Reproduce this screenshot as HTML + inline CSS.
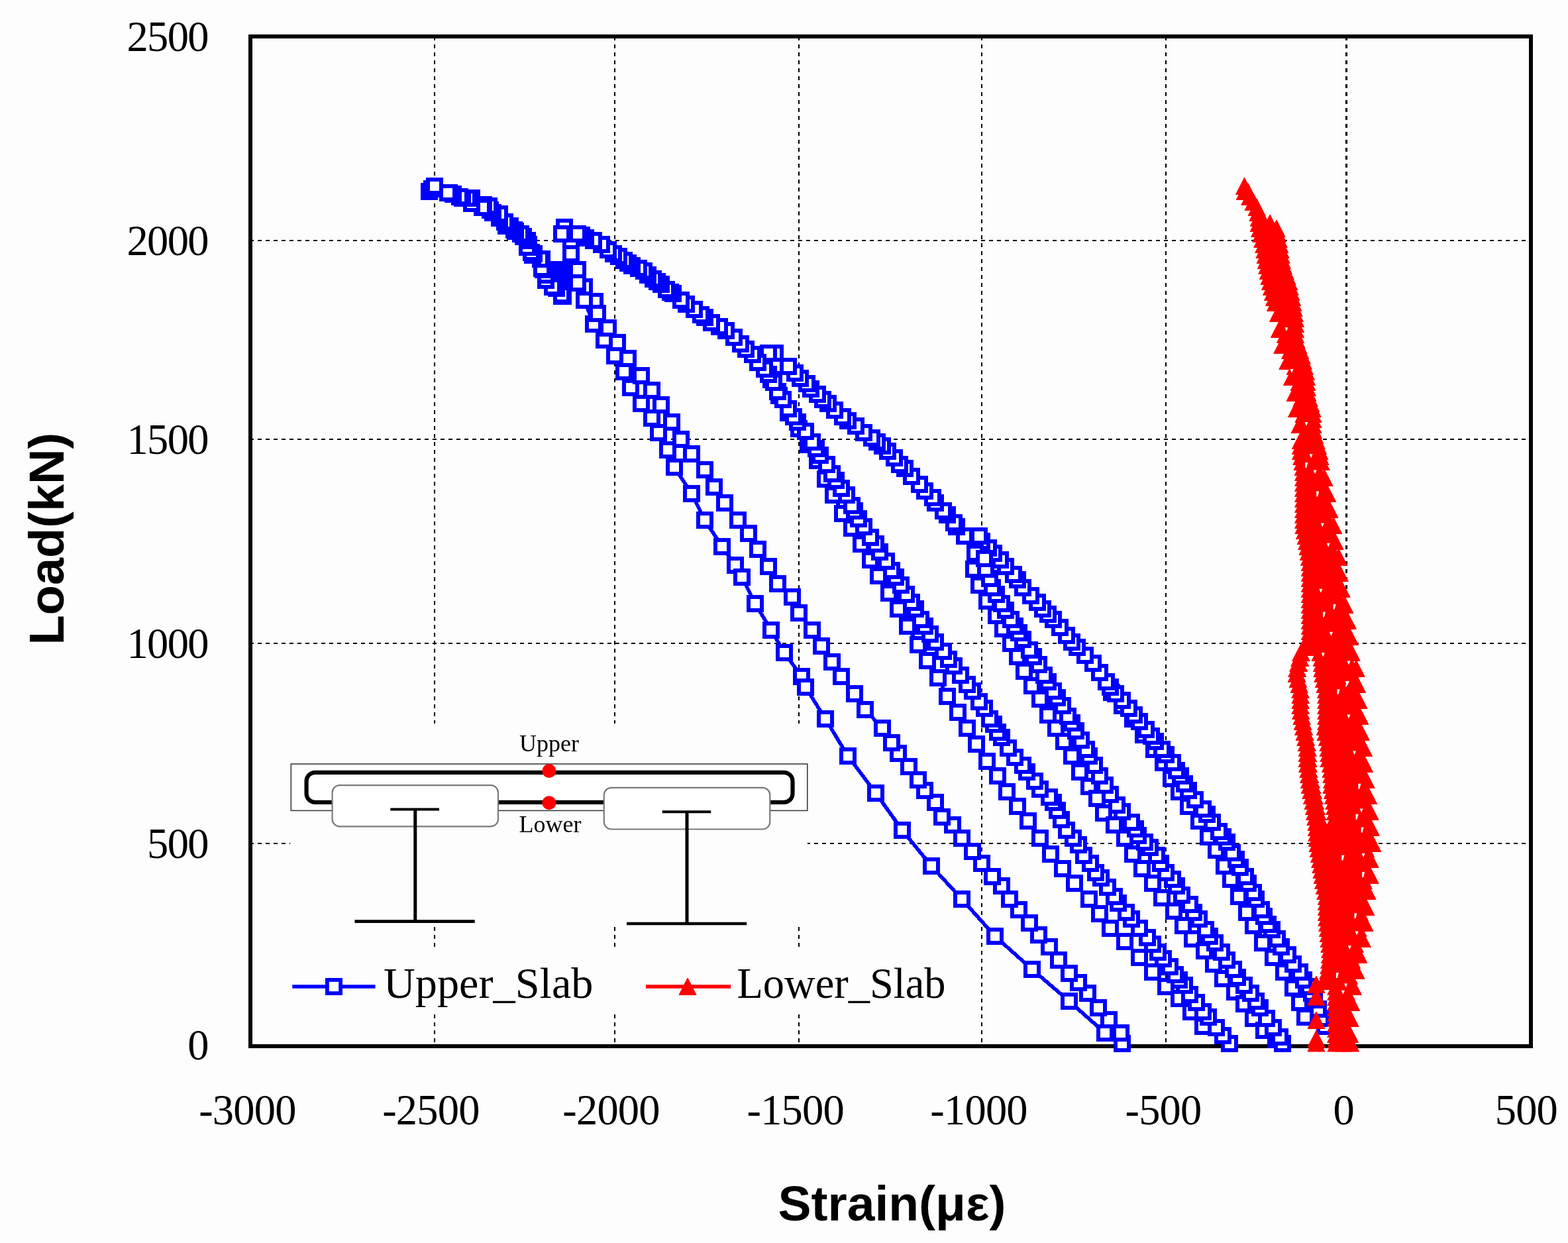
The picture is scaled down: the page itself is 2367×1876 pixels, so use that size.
<!DOCTYPE html>
<html lang="en"><head><meta charset="utf-8"><title>Load-Strain</title>
<style>html,body{margin:0;padding:0;background:#fdfdfd;overflow:hidden;}svg{display:block;}</style>
</head><body>
<svg width="2367" height="1876" viewBox="0 0 2367 1876">
<rect x="0" y="0" width="2367" height="1876" fill="#fdfdfd"/>
<g stroke="#000" stroke-width="2.2" stroke-dasharray="6 6" fill="none" shape-rendering="crispEdges">
<line x1="656" y1="54.5" x2="656" y2="1578.6"/>
<line x1="928.3" y1="54.5" x2="928.3" y2="1578.6"/>
<line x1="1206.1" y1="54.5" x2="1206.1" y2="1578.6"/>
<line x1="1482.2" y1="54.5" x2="1482.2" y2="1578.6"/>
<line x1="1760.3" y1="54.5" x2="1760.3" y2="1578.6"/>
<line x1="2032.5" y1="54.5" x2="2032.5" y2="1578.6"/>
<line x1="377" y1="363" x2="2311" y2="363"/>
<line x1="377" y1="663" x2="2311" y2="663"/>
<line x1="377" y1="971" x2="2311" y2="971"/>
<line x1="377" y1="1273.3" x2="2311" y2="1273.3"/>
</g>
<rect x="378" y="55" width="1933" height="1523.6" fill="none" stroke="#000" stroke-width="6" shape-rendering="crispEdges"/>
<defs>
<rect id="sq" x="-10.1" y="-10.1" width="20.2" height="20.2" fill="#fff" stroke="#0000ff" stroke-width="5.8"/>
<path id="tr" d="M0,-13 L13,12.5 L-13,12.5 Z" fill="#ff0000" stroke="#ff0000" stroke-width="1" stroke-linejoin="round"/>
</defs>
<g id="blue" shape-rendering="crispEdges">
<polyline points="1678,1045 1694,1065 1710,1085 1726,1109 1742,1131 1756,1151 1768,1175 1780,1195 1794,1217 1810,1239 1824,1263 1836,1283 1848,1307 1858,1327 1870,1353 1882,1377 1892,1397 1906,1423 1922,1445 1938,1467 1952,1491 1962,1513 1970,1535" fill="none" stroke="#0000ff" stroke-width="5.6" stroke-linejoin="round"/>
<polyline points="2000,1549 1994,1537 1990,1523 1984,1509 1980,1499 1976,1489 1968,1479 1962,1467 1952,1455 1944,1441 1934,1429 1928,1417 1920,1403 1914,1395 1908,1383 1904,1373 1896,1357 1892,1347 1884,1333 1880,1323 1872,1309 1866,1297 1860,1287 1852,1271 1846,1263 1840,1255 1830,1241 1822,1229 1816,1221 1804,1207 1794,1193 1788,1183 1782,1171 1776,1163 1770,1151 1760,1139 1754,1131 1744,1119 1738,1111 1730,1101 1720,1089 1712,1079 1704,1069 1694,1057 1684,1047 1676,1037 1670,1029 1660,1015 1650,1001 1638,989 1626,977 1618,969 1610,959 1600,947 1590,935 1582,927 1574,919 1566,909 1556,899 1544,887 1536,875 1530,867 1518,855 1510,845 1500,835 1492,827 1482,817 1478,809" fill="none" stroke="#0000ff" stroke-width="5.6" stroke-linejoin="round"/>
<polyline points="1472,835 1470,859 1478,883 1490,907 1504,929 1514,949 1526,971 1536,991 1546,1013 1558,1035 1570,1055 1582,1079 1594,1099 1606,1119 1618,1141 1630,1165 1644,1187 1656,1205 1666,1227 1682,1245 1698,1265 1710,1289 1724,1311 1740,1333 1754,1355 1772,1375 1786,1397 1800,1417 1818,1435 1832,1455 1846,1477 1864,1497 1878,1515 1892,1537 1908,1555 1926,1569" fill="none" stroke="#0000ff" stroke-width="5.6" stroke-linejoin="round"/>
<polyline points="1936,1575 1932,1565 1922,1551 1912,1537 1902,1521 1896,1511 1888,1499 1878,1487 1868,1475 1862,1463 1852,1449 1844,1437 1834,1423 1826,1413 1820,1403 1810,1387 1802,1377 1796,1365 1784,1351 1776,1337 1770,1327 1760,1317 1752,1303 1746,1291 1736,1279 1728,1271 1718,1261 1714,1251 1708,1241 1694,1225 1686,1215 1676,1199 1668,1185 1660,1171 1652,1155 1644,1141 1640,1131 1632,1117 1624,1103 1618,1091 1612,1081 1604,1065 1596,1053 1590,1043 1582,1029 1576,1019 1568,1003 1560,991 1554,981 1544,965 1538,955 1532,945 1526,935 1518,921 1512,911 1504,897 1498,887 1494,873 1488,859 1486,843" fill="none" stroke="#0000ff" stroke-width="5.6" stroke-linejoin="round"/>
<polyline points="1456,809 1444,795 1440,789 1430,777 1424,771 1412,759 1408,751 1396,741 1388,731 1376,719 1366,707 1358,701 1350,691 1340,681 1332,673 1324,667 1316,661 1304,653 1292,643 1280,635 1272,629 1260,619 1250,609 1242,603 1234,595 1224,587 1218,579 1208,571 1200,563 1190,553 1170,533 1160,533" fill="none" stroke="#0000ff" stroke-width="5.6" stroke-linejoin="round"/>
<polyline points="1164,573 1176,597 1190,623 1206,647 1220,671 1234,695 1246,723 1258,747 1272,775 1286,797 1300,821 1314,845 1326,869 1342,895 1356,919 1370,945 1386,973 1400,997 1416,1023 1430,1051 1446,1075 1460,1099 1474,1123 1490,1149 1506,1171 1520,1195 1536,1217 1552,1239 1570,1265 1586,1289 1604,1311 1622,1333 1644,1357 1660,1379 1676,1401 1698,1421 1720,1445 1740,1467 1760,1489 1780,1507 1798,1527 1816,1549" fill="none" stroke="#0000ff" stroke-width="5.6" stroke-linejoin="round"/>
<polyline points="1856,1575 1846,1563 1836,1551 1824,1535 1816,1527 1806,1513 1796,1501 1788,1487 1780,1479 1774,1471 1766,1459 1756,1447 1748,1437 1740,1425 1732,1415 1720,1401 1708,1387 1700,1377 1688,1363 1682,1353 1672,1339 1662,1325 1654,1317 1646,1303 1636,1291 1628,1275 1620,1265 1610,1253 1602,1237 1596,1223 1590,1211 1584,1203 1570,1191 1562,1179 1550,1165 1544,1155 1532,1143 1522,1129 1512,1113 1506,1105 1500,1093 1494,1085 1486,1069 1478,1059 1468,1043 1460,1033 1450,1019 1440,1005 1432,995 1424,983 1412,969 1404,957 1396,945 1390,935 1382,919 1376,909 1368,897 1360,883 1352,871 1346,861 1338,847 1328,833 1322,821 1314,811 1304,795 1296,783 1290,771 1286,763 1278,747 1270,737 1262,725 1256,715 1248,701 1238,687 1232,677 1226,667 1216,651 1204,637 1198,629 1190,617 1182,603 1174,591 1168,577" fill="none" stroke="#0000ff" stroke-width="5.6" stroke-linejoin="round"/>
<polyline points="1160,565 1154,557 1144,547 1136,535 1126,527 1118,519 1108,509 1096,499 1086,493 1074,487 1064,479 1058,475 1048,467 1036,459 1028,453 1016,443 1012,441 1006,437 998,429 992,425 986,421 978,415 972,409 964,405 954,401 948,397 942,393 934,387 926,383 918,377 908,369 896,363 884,359 878,355 872,353 852,343 848,353" fill="none" stroke="#0000ff" stroke-width="5.6" stroke-linejoin="round"/>
<polyline points="862,373 862,383 882,433 872,407 872,427 898,455 882,453 896,489 912,513 928,537 942,561 952,585 968,609 984,631 994,653 1008,679 1018,705 1044,745 1064,785 1090,825 1110,853 1120,871 1140,911 1164,951 1184,985 1210,1021 1216,1037 1246,1085 1280,1141 1322,1197 1362,1253 1406,1307 1452,1357 1502,1413 1558,1463 1614,1511 1668,1559 1694,1575" fill="none" stroke="#0000ff" stroke-width="5.6" stroke-linejoin="round"/>
<polyline points="1694,1575 1692,1559 1674,1539 1658,1521 1642,1499 1628,1483 1614,1469 1598,1449 1584,1429 1568,1411 1554,1393 1538,1373 1524,1357 1512,1337 1498,1323 1482,1303 1468,1285 1452,1265 1438,1245 1422,1233 1412,1211 1396,1193 1386,1177 1372,1157 1356,1137 1346,1121 1332,1099 1306,1071 1290,1047 1270,1021 1256,999 1240,975 1226,951 1206,925 1196,901 1174,881 1160,855 1144,829 1130,805 1114,785 1094,759 1078,735 1064,709 1044,685 1028,663 1014,637 998,611 984,589 968,567 948,541 932,517 918,495 902,473" fill="none" stroke="#0000ff" stroke-width="5.6" stroke-linejoin="round"/>
<polyline points="848,407 848,411 848,415 848,419 848,423 848,427 848,431 848,435 848,439 848,443 848,447" fill="none" stroke="#0000ff" stroke-width="5.6" stroke-linejoin="round"/>
<polyline points="850,447 848,445 840,435 840,433 834,433 824,423 824,415 820,407 822,407 818,405 818,391 816,391 804,385 806,383 802,381 798,369 796,373 796,363 790,357 786,353 778,349 776,347 770,341 764,341 762,335 754,329 754,323 744,321 740,317 738,311 730,309 728,313 712,307 712,299 706,299 698,299 694,297 684,293 678,291 676,291 648,289 652,285 656,281" fill="none" stroke="#0000ff" stroke-width="5.6" stroke-linejoin="round"/>
<use href="#sq" x="1678" y="1045"/>
<use href="#sq" x="1694" y="1065"/>
<use href="#sq" x="1710" y="1085"/>
<use href="#sq" x="1726" y="1109"/>
<use href="#sq" x="1742" y="1131"/>
<use href="#sq" x="1756" y="1151"/>
<use href="#sq" x="1768" y="1175"/>
<use href="#sq" x="1780" y="1195"/>
<use href="#sq" x="1794" y="1217"/>
<use href="#sq" x="1810" y="1239"/>
<use href="#sq" x="1824" y="1263"/>
<use href="#sq" x="1836" y="1283"/>
<use href="#sq" x="1848" y="1307"/>
<use href="#sq" x="1858" y="1327"/>
<use href="#sq" x="1870" y="1353"/>
<use href="#sq" x="1882" y="1377"/>
<use href="#sq" x="1892" y="1397"/>
<use href="#sq" x="1906" y="1423"/>
<use href="#sq" x="1922" y="1445"/>
<use href="#sq" x="1938" y="1467"/>
<use href="#sq" x="1952" y="1491"/>
<use href="#sq" x="1962" y="1513"/>
<use href="#sq" x="1970" y="1535"/>
<use href="#sq" x="2000" y="1549"/>
<use href="#sq" x="1994" y="1537"/>
<use href="#sq" x="1990" y="1523"/>
<use href="#sq" x="1984" y="1509"/>
<use href="#sq" x="1980" y="1499"/>
<use href="#sq" x="1976" y="1489"/>
<use href="#sq" x="1968" y="1479"/>
<use href="#sq" x="1962" y="1467"/>
<use href="#sq" x="1952" y="1455"/>
<use href="#sq" x="1944" y="1441"/>
<use href="#sq" x="1934" y="1429"/>
<use href="#sq" x="1928" y="1417"/>
<use href="#sq" x="1920" y="1403"/>
<use href="#sq" x="1914" y="1395"/>
<use href="#sq" x="1908" y="1383"/>
<use href="#sq" x="1904" y="1373"/>
<use href="#sq" x="1896" y="1357"/>
<use href="#sq" x="1892" y="1347"/>
<use href="#sq" x="1884" y="1333"/>
<use href="#sq" x="1880" y="1323"/>
<use href="#sq" x="1872" y="1309"/>
<use href="#sq" x="1866" y="1297"/>
<use href="#sq" x="1860" y="1287"/>
<use href="#sq" x="1852" y="1271"/>
<use href="#sq" x="1846" y="1263"/>
<use href="#sq" x="1840" y="1255"/>
<use href="#sq" x="1830" y="1241"/>
<use href="#sq" x="1822" y="1229"/>
<use href="#sq" x="1816" y="1221"/>
<use href="#sq" x="1804" y="1207"/>
<use href="#sq" x="1794" y="1193"/>
<use href="#sq" x="1788" y="1183"/>
<use href="#sq" x="1782" y="1171"/>
<use href="#sq" x="1776" y="1163"/>
<use href="#sq" x="1770" y="1151"/>
<use href="#sq" x="1760" y="1139"/>
<use href="#sq" x="1754" y="1131"/>
<use href="#sq" x="1744" y="1119"/>
<use href="#sq" x="1738" y="1111"/>
<use href="#sq" x="1730" y="1101"/>
<use href="#sq" x="1720" y="1089"/>
<use href="#sq" x="1712" y="1079"/>
<use href="#sq" x="1704" y="1069"/>
<use href="#sq" x="1694" y="1057"/>
<use href="#sq" x="1684" y="1047"/>
<use href="#sq" x="1676" y="1037"/>
<use href="#sq" x="1670" y="1029"/>
<use href="#sq" x="1660" y="1015"/>
<use href="#sq" x="1650" y="1001"/>
<use href="#sq" x="1638" y="989"/>
<use href="#sq" x="1626" y="977"/>
<use href="#sq" x="1618" y="969"/>
<use href="#sq" x="1610" y="959"/>
<use href="#sq" x="1600" y="947"/>
<use href="#sq" x="1590" y="935"/>
<use href="#sq" x="1582" y="927"/>
<use href="#sq" x="1574" y="919"/>
<use href="#sq" x="1566" y="909"/>
<use href="#sq" x="1556" y="899"/>
<use href="#sq" x="1544" y="887"/>
<use href="#sq" x="1536" y="875"/>
<use href="#sq" x="1530" y="867"/>
<use href="#sq" x="1518" y="855"/>
<use href="#sq" x="1510" y="845"/>
<use href="#sq" x="1500" y="835"/>
<use href="#sq" x="1492" y="827"/>
<use href="#sq" x="1482" y="817"/>
<use href="#sq" x="1478" y="809"/>
<use href="#sq" x="1472" y="835"/>
<use href="#sq" x="1470" y="859"/>
<use href="#sq" x="1478" y="883"/>
<use href="#sq" x="1490" y="907"/>
<use href="#sq" x="1504" y="929"/>
<use href="#sq" x="1514" y="949"/>
<use href="#sq" x="1526" y="971"/>
<use href="#sq" x="1536" y="991"/>
<use href="#sq" x="1546" y="1013"/>
<use href="#sq" x="1558" y="1035"/>
<use href="#sq" x="1570" y="1055"/>
<use href="#sq" x="1582" y="1079"/>
<use href="#sq" x="1594" y="1099"/>
<use href="#sq" x="1606" y="1119"/>
<use href="#sq" x="1618" y="1141"/>
<use href="#sq" x="1630" y="1165"/>
<use href="#sq" x="1644" y="1187"/>
<use href="#sq" x="1656" y="1205"/>
<use href="#sq" x="1666" y="1227"/>
<use href="#sq" x="1682" y="1245"/>
<use href="#sq" x="1698" y="1265"/>
<use href="#sq" x="1710" y="1289"/>
<use href="#sq" x="1724" y="1311"/>
<use href="#sq" x="1740" y="1333"/>
<use href="#sq" x="1754" y="1355"/>
<use href="#sq" x="1772" y="1375"/>
<use href="#sq" x="1786" y="1397"/>
<use href="#sq" x="1800" y="1417"/>
<use href="#sq" x="1818" y="1435"/>
<use href="#sq" x="1832" y="1455"/>
<use href="#sq" x="1846" y="1477"/>
<use href="#sq" x="1864" y="1497"/>
<use href="#sq" x="1878" y="1515"/>
<use href="#sq" x="1892" y="1537"/>
<use href="#sq" x="1908" y="1555"/>
<use href="#sq" x="1926" y="1569"/>
<use href="#sq" x="1936" y="1575"/>
<use href="#sq" x="1932" y="1565"/>
<use href="#sq" x="1922" y="1551"/>
<use href="#sq" x="1912" y="1537"/>
<use href="#sq" x="1902" y="1521"/>
<use href="#sq" x="1896" y="1511"/>
<use href="#sq" x="1888" y="1499"/>
<use href="#sq" x="1878" y="1487"/>
<use href="#sq" x="1868" y="1475"/>
<use href="#sq" x="1862" y="1463"/>
<use href="#sq" x="1852" y="1449"/>
<use href="#sq" x="1844" y="1437"/>
<use href="#sq" x="1834" y="1423"/>
<use href="#sq" x="1826" y="1413"/>
<use href="#sq" x="1820" y="1403"/>
<use href="#sq" x="1810" y="1387"/>
<use href="#sq" x="1802" y="1377"/>
<use href="#sq" x="1796" y="1365"/>
<use href="#sq" x="1784" y="1351"/>
<use href="#sq" x="1776" y="1337"/>
<use href="#sq" x="1770" y="1327"/>
<use href="#sq" x="1760" y="1317"/>
<use href="#sq" x="1752" y="1303"/>
<use href="#sq" x="1746" y="1291"/>
<use href="#sq" x="1736" y="1279"/>
<use href="#sq" x="1728" y="1271"/>
<use href="#sq" x="1718" y="1261"/>
<use href="#sq" x="1714" y="1251"/>
<use href="#sq" x="1708" y="1241"/>
<use href="#sq" x="1694" y="1225"/>
<use href="#sq" x="1686" y="1215"/>
<use href="#sq" x="1676" y="1199"/>
<use href="#sq" x="1668" y="1185"/>
<use href="#sq" x="1660" y="1171"/>
<use href="#sq" x="1652" y="1155"/>
<use href="#sq" x="1644" y="1141"/>
<use href="#sq" x="1640" y="1131"/>
<use href="#sq" x="1632" y="1117"/>
<use href="#sq" x="1624" y="1103"/>
<use href="#sq" x="1618" y="1091"/>
<use href="#sq" x="1612" y="1081"/>
<use href="#sq" x="1604" y="1065"/>
<use href="#sq" x="1596" y="1053"/>
<use href="#sq" x="1590" y="1043"/>
<use href="#sq" x="1582" y="1029"/>
<use href="#sq" x="1576" y="1019"/>
<use href="#sq" x="1568" y="1003"/>
<use href="#sq" x="1560" y="991"/>
<use href="#sq" x="1554" y="981"/>
<use href="#sq" x="1544" y="965"/>
<use href="#sq" x="1538" y="955"/>
<use href="#sq" x="1532" y="945"/>
<use href="#sq" x="1526" y="935"/>
<use href="#sq" x="1518" y="921"/>
<use href="#sq" x="1512" y="911"/>
<use href="#sq" x="1504" y="897"/>
<use href="#sq" x="1498" y="887"/>
<use href="#sq" x="1494" y="873"/>
<use href="#sq" x="1488" y="859"/>
<use href="#sq" x="1486" y="843"/>
<use href="#sq" x="1456" y="809"/>
<use href="#sq" x="1444" y="795"/>
<use href="#sq" x="1440" y="789"/>
<use href="#sq" x="1430" y="777"/>
<use href="#sq" x="1424" y="771"/>
<use href="#sq" x="1412" y="759"/>
<use href="#sq" x="1408" y="751"/>
<use href="#sq" x="1396" y="741"/>
<use href="#sq" x="1388" y="731"/>
<use href="#sq" x="1376" y="719"/>
<use href="#sq" x="1366" y="707"/>
<use href="#sq" x="1358" y="701"/>
<use href="#sq" x="1350" y="691"/>
<use href="#sq" x="1340" y="681"/>
<use href="#sq" x="1332" y="673"/>
<use href="#sq" x="1324" y="667"/>
<use href="#sq" x="1316" y="661"/>
<use href="#sq" x="1304" y="653"/>
<use href="#sq" x="1292" y="643"/>
<use href="#sq" x="1280" y="635"/>
<use href="#sq" x="1272" y="629"/>
<use href="#sq" x="1260" y="619"/>
<use href="#sq" x="1250" y="609"/>
<use href="#sq" x="1242" y="603"/>
<use href="#sq" x="1234" y="595"/>
<use href="#sq" x="1224" y="587"/>
<use href="#sq" x="1218" y="579"/>
<use href="#sq" x="1208" y="571"/>
<use href="#sq" x="1200" y="563"/>
<use href="#sq" x="1190" y="553"/>
<use href="#sq" x="1170" y="533"/>
<use href="#sq" x="1160" y="533"/>
<use href="#sq" x="1164" y="573"/>
<use href="#sq" x="1176" y="597"/>
<use href="#sq" x="1190" y="623"/>
<use href="#sq" x="1206" y="647"/>
<use href="#sq" x="1220" y="671"/>
<use href="#sq" x="1234" y="695"/>
<use href="#sq" x="1246" y="723"/>
<use href="#sq" x="1258" y="747"/>
<use href="#sq" x="1272" y="775"/>
<use href="#sq" x="1286" y="797"/>
<use href="#sq" x="1300" y="821"/>
<use href="#sq" x="1314" y="845"/>
<use href="#sq" x="1326" y="869"/>
<use href="#sq" x="1342" y="895"/>
<use href="#sq" x="1356" y="919"/>
<use href="#sq" x="1370" y="945"/>
<use href="#sq" x="1386" y="973"/>
<use href="#sq" x="1400" y="997"/>
<use href="#sq" x="1416" y="1023"/>
<use href="#sq" x="1430" y="1051"/>
<use href="#sq" x="1446" y="1075"/>
<use href="#sq" x="1460" y="1099"/>
<use href="#sq" x="1474" y="1123"/>
<use href="#sq" x="1490" y="1149"/>
<use href="#sq" x="1506" y="1171"/>
<use href="#sq" x="1520" y="1195"/>
<use href="#sq" x="1536" y="1217"/>
<use href="#sq" x="1552" y="1239"/>
<use href="#sq" x="1570" y="1265"/>
<use href="#sq" x="1586" y="1289"/>
<use href="#sq" x="1604" y="1311"/>
<use href="#sq" x="1622" y="1333"/>
<use href="#sq" x="1644" y="1357"/>
<use href="#sq" x="1660" y="1379"/>
<use href="#sq" x="1676" y="1401"/>
<use href="#sq" x="1698" y="1421"/>
<use href="#sq" x="1720" y="1445"/>
<use href="#sq" x="1740" y="1467"/>
<use href="#sq" x="1760" y="1489"/>
<use href="#sq" x="1780" y="1507"/>
<use href="#sq" x="1798" y="1527"/>
<use href="#sq" x="1816" y="1549"/>
<use href="#sq" x="1856" y="1575"/>
<use href="#sq" x="1846" y="1563"/>
<use href="#sq" x="1836" y="1551"/>
<use href="#sq" x="1824" y="1535"/>
<use href="#sq" x="1816" y="1527"/>
<use href="#sq" x="1806" y="1513"/>
<use href="#sq" x="1796" y="1501"/>
<use href="#sq" x="1788" y="1487"/>
<use href="#sq" x="1780" y="1479"/>
<use href="#sq" x="1774" y="1471"/>
<use href="#sq" x="1766" y="1459"/>
<use href="#sq" x="1756" y="1447"/>
<use href="#sq" x="1748" y="1437"/>
<use href="#sq" x="1740" y="1425"/>
<use href="#sq" x="1732" y="1415"/>
<use href="#sq" x="1720" y="1401"/>
<use href="#sq" x="1708" y="1387"/>
<use href="#sq" x="1700" y="1377"/>
<use href="#sq" x="1688" y="1363"/>
<use href="#sq" x="1682" y="1353"/>
<use href="#sq" x="1672" y="1339"/>
<use href="#sq" x="1662" y="1325"/>
<use href="#sq" x="1654" y="1317"/>
<use href="#sq" x="1646" y="1303"/>
<use href="#sq" x="1636" y="1291"/>
<use href="#sq" x="1628" y="1275"/>
<use href="#sq" x="1620" y="1265"/>
<use href="#sq" x="1610" y="1253"/>
<use href="#sq" x="1602" y="1237"/>
<use href="#sq" x="1596" y="1223"/>
<use href="#sq" x="1590" y="1211"/>
<use href="#sq" x="1584" y="1203"/>
<use href="#sq" x="1570" y="1191"/>
<use href="#sq" x="1562" y="1179"/>
<use href="#sq" x="1550" y="1165"/>
<use href="#sq" x="1544" y="1155"/>
<use href="#sq" x="1532" y="1143"/>
<use href="#sq" x="1522" y="1129"/>
<use href="#sq" x="1512" y="1113"/>
<use href="#sq" x="1506" y="1105"/>
<use href="#sq" x="1500" y="1093"/>
<use href="#sq" x="1494" y="1085"/>
<use href="#sq" x="1486" y="1069"/>
<use href="#sq" x="1478" y="1059"/>
<use href="#sq" x="1468" y="1043"/>
<use href="#sq" x="1460" y="1033"/>
<use href="#sq" x="1450" y="1019"/>
<use href="#sq" x="1440" y="1005"/>
<use href="#sq" x="1432" y="995"/>
<use href="#sq" x="1424" y="983"/>
<use href="#sq" x="1412" y="969"/>
<use href="#sq" x="1404" y="957"/>
<use href="#sq" x="1396" y="945"/>
<use href="#sq" x="1390" y="935"/>
<use href="#sq" x="1382" y="919"/>
<use href="#sq" x="1376" y="909"/>
<use href="#sq" x="1368" y="897"/>
<use href="#sq" x="1360" y="883"/>
<use href="#sq" x="1352" y="871"/>
<use href="#sq" x="1346" y="861"/>
<use href="#sq" x="1338" y="847"/>
<use href="#sq" x="1328" y="833"/>
<use href="#sq" x="1322" y="821"/>
<use href="#sq" x="1314" y="811"/>
<use href="#sq" x="1304" y="795"/>
<use href="#sq" x="1296" y="783"/>
<use href="#sq" x="1290" y="771"/>
<use href="#sq" x="1286" y="763"/>
<use href="#sq" x="1278" y="747"/>
<use href="#sq" x="1270" y="737"/>
<use href="#sq" x="1262" y="725"/>
<use href="#sq" x="1256" y="715"/>
<use href="#sq" x="1248" y="701"/>
<use href="#sq" x="1238" y="687"/>
<use href="#sq" x="1232" y="677"/>
<use href="#sq" x="1226" y="667"/>
<use href="#sq" x="1216" y="651"/>
<use href="#sq" x="1204" y="637"/>
<use href="#sq" x="1198" y="629"/>
<use href="#sq" x="1190" y="617"/>
<use href="#sq" x="1182" y="603"/>
<use href="#sq" x="1174" y="591"/>
<use href="#sq" x="1168" y="577"/>
<use href="#sq" x="1160" y="565"/>
<use href="#sq" x="1154" y="557"/>
<use href="#sq" x="1144" y="547"/>
<use href="#sq" x="1136" y="535"/>
<use href="#sq" x="1126" y="527"/>
<use href="#sq" x="1118" y="519"/>
<use href="#sq" x="1108" y="509"/>
<use href="#sq" x="1096" y="499"/>
<use href="#sq" x="1086" y="493"/>
<use href="#sq" x="1074" y="487"/>
<use href="#sq" x="1064" y="479"/>
<use href="#sq" x="1058" y="475"/>
<use href="#sq" x="1048" y="467"/>
<use href="#sq" x="1036" y="459"/>
<use href="#sq" x="1028" y="453"/>
<use href="#sq" x="1016" y="443"/>
<use href="#sq" x="1012" y="441"/>
<use href="#sq" x="1006" y="437"/>
<use href="#sq" x="998" y="429"/>
<use href="#sq" x="992" y="425"/>
<use href="#sq" x="986" y="421"/>
<use href="#sq" x="978" y="415"/>
<use href="#sq" x="972" y="409"/>
<use href="#sq" x="964" y="405"/>
<use href="#sq" x="954" y="401"/>
<use href="#sq" x="948" y="397"/>
<use href="#sq" x="942" y="393"/>
<use href="#sq" x="934" y="387"/>
<use href="#sq" x="926" y="383"/>
<use href="#sq" x="918" y="377"/>
<use href="#sq" x="908" y="369"/>
<use href="#sq" x="896" y="363"/>
<use href="#sq" x="884" y="359"/>
<use href="#sq" x="878" y="355"/>
<use href="#sq" x="872" y="353"/>
<use href="#sq" x="852" y="343"/>
<use href="#sq" x="848" y="353"/>
<use href="#sq" x="862" y="373"/>
<use href="#sq" x="862" y="383"/>
<use href="#sq" x="882" y="433"/>
<use href="#sq" x="872" y="407"/>
<use href="#sq" x="872" y="427"/>
<use href="#sq" x="898" y="455"/>
<use href="#sq" x="882" y="453"/>
<use href="#sq" x="896" y="489"/>
<use href="#sq" x="912" y="513"/>
<use href="#sq" x="928" y="537"/>
<use href="#sq" x="942" y="561"/>
<use href="#sq" x="952" y="585"/>
<use href="#sq" x="968" y="609"/>
<use href="#sq" x="984" y="631"/>
<use href="#sq" x="994" y="653"/>
<use href="#sq" x="1008" y="679"/>
<use href="#sq" x="1018" y="705"/>
<use href="#sq" x="1044" y="745"/>
<use href="#sq" x="1064" y="785"/>
<use href="#sq" x="1090" y="825"/>
<use href="#sq" x="1110" y="853"/>
<use href="#sq" x="1120" y="871"/>
<use href="#sq" x="1140" y="911"/>
<use href="#sq" x="1164" y="951"/>
<use href="#sq" x="1184" y="985"/>
<use href="#sq" x="1210" y="1021"/>
<use href="#sq" x="1216" y="1037"/>
<use href="#sq" x="1246" y="1085"/>
<use href="#sq" x="1280" y="1141"/>
<use href="#sq" x="1322" y="1197"/>
<use href="#sq" x="1362" y="1253"/>
<use href="#sq" x="1406" y="1307"/>
<use href="#sq" x="1452" y="1357"/>
<use href="#sq" x="1502" y="1413"/>
<use href="#sq" x="1558" y="1463"/>
<use href="#sq" x="1614" y="1511"/>
<use href="#sq" x="1668" y="1559"/>
<use href="#sq" x="1694" y="1575"/>
<use href="#sq" x="1694" y="1575"/>
<use href="#sq" x="1692" y="1559"/>
<use href="#sq" x="1674" y="1539"/>
<use href="#sq" x="1658" y="1521"/>
<use href="#sq" x="1642" y="1499"/>
<use href="#sq" x="1628" y="1483"/>
<use href="#sq" x="1614" y="1469"/>
<use href="#sq" x="1598" y="1449"/>
<use href="#sq" x="1584" y="1429"/>
<use href="#sq" x="1568" y="1411"/>
<use href="#sq" x="1554" y="1393"/>
<use href="#sq" x="1538" y="1373"/>
<use href="#sq" x="1524" y="1357"/>
<use href="#sq" x="1512" y="1337"/>
<use href="#sq" x="1498" y="1323"/>
<use href="#sq" x="1482" y="1303"/>
<use href="#sq" x="1468" y="1285"/>
<use href="#sq" x="1452" y="1265"/>
<use href="#sq" x="1438" y="1245"/>
<use href="#sq" x="1422" y="1233"/>
<use href="#sq" x="1412" y="1211"/>
<use href="#sq" x="1396" y="1193"/>
<use href="#sq" x="1386" y="1177"/>
<use href="#sq" x="1372" y="1157"/>
<use href="#sq" x="1356" y="1137"/>
<use href="#sq" x="1346" y="1121"/>
<use href="#sq" x="1332" y="1099"/>
<use href="#sq" x="1306" y="1071"/>
<use href="#sq" x="1290" y="1047"/>
<use href="#sq" x="1270" y="1021"/>
<use href="#sq" x="1256" y="999"/>
<use href="#sq" x="1240" y="975"/>
<use href="#sq" x="1226" y="951"/>
<use href="#sq" x="1206" y="925"/>
<use href="#sq" x="1196" y="901"/>
<use href="#sq" x="1174" y="881"/>
<use href="#sq" x="1160" y="855"/>
<use href="#sq" x="1144" y="829"/>
<use href="#sq" x="1130" y="805"/>
<use href="#sq" x="1114" y="785"/>
<use href="#sq" x="1094" y="759"/>
<use href="#sq" x="1078" y="735"/>
<use href="#sq" x="1064" y="709"/>
<use href="#sq" x="1044" y="685"/>
<use href="#sq" x="1028" y="663"/>
<use href="#sq" x="1014" y="637"/>
<use href="#sq" x="998" y="611"/>
<use href="#sq" x="984" y="589"/>
<use href="#sq" x="968" y="567"/>
<use href="#sq" x="948" y="541"/>
<use href="#sq" x="932" y="517"/>
<use href="#sq" x="918" y="495"/>
<use href="#sq" x="902" y="473"/>
<rect x="837" y="394" width="26" height="66" fill="#0000ff"/>
<use href="#sq" x="848" y="407"/>
<use href="#sq" x="848" y="411"/>
<use href="#sq" x="848" y="415"/>
<use href="#sq" x="848" y="419"/>
<use href="#sq" x="848" y="423"/>
<use href="#sq" x="848" y="427"/>
<use href="#sq" x="848" y="431"/>
<use href="#sq" x="848" y="435"/>
<use href="#sq" x="848" y="439"/>
<use href="#sq" x="848" y="443"/>
<use href="#sq" x="848" y="447"/>
<use href="#sq" x="850" y="447"/>
<use href="#sq" x="848" y="445"/>
<use href="#sq" x="840" y="435"/>
<use href="#sq" x="840" y="433"/>
<use href="#sq" x="834" y="433"/>
<use href="#sq" x="824" y="423"/>
<use href="#sq" x="824" y="415"/>
<use href="#sq" x="820" y="407"/>
<use href="#sq" x="822" y="407"/>
<use href="#sq" x="818" y="405"/>
<use href="#sq" x="818" y="391"/>
<use href="#sq" x="816" y="391"/>
<use href="#sq" x="804" y="385"/>
<use href="#sq" x="806" y="383"/>
<use href="#sq" x="802" y="381"/>
<use href="#sq" x="798" y="369"/>
<use href="#sq" x="796" y="373"/>
<use href="#sq" x="796" y="363"/>
<use href="#sq" x="790" y="357"/>
<use href="#sq" x="786" y="353"/>
<use href="#sq" x="778" y="349"/>
<use href="#sq" x="776" y="347"/>
<use href="#sq" x="770" y="341"/>
<use href="#sq" x="764" y="341"/>
<use href="#sq" x="762" y="335"/>
<use href="#sq" x="754" y="329"/>
<use href="#sq" x="754" y="323"/>
<use href="#sq" x="744" y="321"/>
<use href="#sq" x="740" y="317"/>
<use href="#sq" x="738" y="311"/>
<use href="#sq" x="730" y="309"/>
<use href="#sq" x="728" y="313"/>
<use href="#sq" x="712" y="307"/>
<use href="#sq" x="712" y="299"/>
<use href="#sq" x="706" y="299"/>
<use href="#sq" x="698" y="299"/>
<use href="#sq" x="694" y="297"/>
<use href="#sq" x="684" y="293"/>
<use href="#sq" x="678" y="291"/>
<use href="#sq" x="676" y="291"/>
<use href="#sq" x="648" y="289"/>
<use href="#sq" x="652" y="285"/>
<use href="#sq" x="656" y="281"/>
</g>
<g id="red">
<use href="#tr" x="1878.5" y="281"/>
<use href="#tr" x="1879.3" y="289"/>
<use href="#tr" x="1883.7" y="289"/>
<use href="#tr" x="1886.7" y="297"/>
<use href="#tr" x="1892" y="305"/>
<use href="#tr" x="1897.2" y="313"/>
<use href="#tr" x="1898.9" y="321"/>
<use href="#tr" x="1900.3" y="329"/>
<use href="#tr" x="1900.1" y="337"/>
<use href="#tr" x="1908.6" y="337"/>
<use href="#tr" x="1917.1" y="337"/>
<use href="#tr" x="1901.7" y="345"/>
<use href="#tr" x="1910.2" y="345"/>
<use href="#tr" x="1918.6" y="345"/>
<use href="#tr" x="1927" y="345"/>
<use href="#tr" x="1903.7" y="353"/>
<use href="#tr" x="1912" y="353"/>
<use href="#tr" x="1920.3" y="353"/>
<use href="#tr" x="1928.6" y="353"/>
<use href="#tr" x="1905.7" y="361"/>
<use href="#tr" x="1913.8" y="361"/>
<use href="#tr" x="1922" y="361"/>
<use href="#tr" x="1930.2" y="361"/>
<use href="#tr" x="1907.7" y="369"/>
<use href="#tr" x="1915.7" y="369"/>
<use href="#tr" x="1923.7" y="369"/>
<use href="#tr" x="1931.8" y="369"/>
<use href="#tr" x="1908.9" y="377"/>
<use href="#tr" x="1916.9" y="377"/>
<use href="#tr" x="1924.9" y="377"/>
<use href="#tr" x="1933" y="377"/>
<use href="#tr" x="1910.1" y="385"/>
<use href="#tr" x="1918.1" y="385"/>
<use href="#tr" x="1926.2" y="385"/>
<use href="#tr" x="1934.2" y="385"/>
<use href="#tr" x="1911.3" y="393"/>
<use href="#tr" x="1919.3" y="393"/>
<use href="#tr" x="1927.4" y="393"/>
<use href="#tr" x="1935.4" y="393"/>
<use href="#tr" x="1912.7" y="401"/>
<use href="#tr" x="1920.9" y="401"/>
<use href="#tr" x="1929.2" y="401"/>
<use href="#tr" x="1937.4" y="401"/>
<use href="#tr" x="1914.3" y="409"/>
<use href="#tr" x="1922.9" y="409"/>
<use href="#tr" x="1931.6" y="409"/>
<use href="#tr" x="1940.2" y="409"/>
<use href="#tr" x="1915.9" y="417"/>
<use href="#tr" x="1924.9" y="417"/>
<use href="#tr" x="1934" y="417"/>
<use href="#tr" x="1943" y="417"/>
<use href="#tr" x="1917.5" y="425"/>
<use href="#tr" x="1926.9" y="425"/>
<use href="#tr" x="1936.3" y="425"/>
<use href="#tr" x="1945.7" y="425"/>
<use href="#tr" x="1919.5" y="433"/>
<use href="#tr" x="1928.8" y="433"/>
<use href="#tr" x="1938.1" y="433"/>
<use href="#tr" x="1947.3" y="433"/>
<use href="#tr" x="1921.5" y="441"/>
<use href="#tr" x="1930.7" y="441"/>
<use href="#tr" x="1939.8" y="441"/>
<use href="#tr" x="1949" y="441"/>
<use href="#tr" x="1923.5" y="449"/>
<use href="#tr" x="1932.5" y="449"/>
<use href="#tr" x="1941.5" y="449"/>
<use href="#tr" x="1950.6" y="449"/>
<use href="#tr" x="1925.5" y="457"/>
<use href="#tr" x="1934.3" y="457"/>
<use href="#tr" x="1943.1" y="457"/>
<use href="#tr" x="1951.9" y="457"/>
<use href="#tr" x="1936.5" y="465"/>
<use href="#tr" x="1944.8" y="465"/>
<use href="#tr" x="1953.2" y="465"/>
<use href="#tr" x="1929.5" y="473"/>
<use href="#tr" x="1937.8" y="473"/>
<use href="#tr" x="1946.1" y="473"/>
<use href="#tr" x="1954.4" y="473"/>
<use href="#tr" x="1940.4" y="481"/>
<use href="#tr" x="1948" y="481"/>
<use href="#tr" x="1955.5" y="481"/>
<use href="#tr" x="1940.4" y="489"/>
<use href="#tr" x="1948" y="489"/>
<use href="#tr" x="1955.5" y="489"/>
<use href="#tr" x="1931.4" y="497"/>
<use href="#tr" x="1939.4" y="497"/>
<use href="#tr" x="1947.5" y="497"/>
<use href="#tr" x="1955.5" y="497"/>
<use href="#tr" x="1940.4" y="505"/>
<use href="#tr" x="1948" y="505"/>
<use href="#tr" x="1955.5" y="505"/>
<use href="#tr" x="1942" y="513"/>
<use href="#tr" x="1949.6" y="513"/>
<use href="#tr" x="1957.1" y="513"/>
<use href="#tr" x="1935.8" y="521"/>
<use href="#tr" x="1943.9" y="521"/>
<use href="#tr" x="1951.9" y="521"/>
<use href="#tr" x="1959.9" y="521"/>
<use href="#tr" x="1947.6" y="529"/>
<use href="#tr" x="1955.2" y="529"/>
<use href="#tr" x="1962.7" y="529"/>
<use href="#tr" x="1950.4" y="537"/>
<use href="#tr" x="1957.9" y="537"/>
<use href="#tr" x="1965.4" y="537"/>
<use href="#tr" x="1943.8" y="545"/>
<use href="#tr" x="1951.7" y="545"/>
<use href="#tr" x="1959.5" y="545"/>
<use href="#tr" x="1967.4" y="545"/>
<use href="#tr" x="1955.2" y="553"/>
<use href="#tr" x="1962.3" y="553"/>
<use href="#tr" x="1969.4" y="553"/>
<use href="#tr" x="1957.6" y="561"/>
<use href="#tr" x="1964.5" y="561"/>
<use href="#tr" x="1971.4" y="561"/>
<use href="#tr" x="1950.5" y="569"/>
<use href="#tr" x="1961.5" y="569"/>
<use href="#tr" x="1972.5" y="569"/>
<use href="#tr" x="1961.1" y="577"/>
<use href="#tr" x="1967" y="577"/>
<use href="#tr" x="1972.9" y="577"/>
<use href="#tr" x="1962.7" y="585"/>
<use href="#tr" x="1973.3" y="585"/>
<use href="#tr" x="1955.1" y="593"/>
<use href="#tr" x="1964.5" y="593"/>
<use href="#tr" x="1974" y="593"/>
<use href="#tr" x="1964.9" y="601"/>
<use href="#tr" x="1970.6" y="601"/>
<use href="#tr" x="1976.3" y="601"/>
<use href="#tr" x="1965.7" y="609"/>
<use href="#tr" x="1972.2" y="609"/>
<use href="#tr" x="1978.7" y="609"/>
<use href="#tr" x="1957.5" y="617"/>
<use href="#tr" x="1965.4" y="617"/>
<use href="#tr" x="1973.3" y="617"/>
<use href="#tr" x="1981.1" y="617"/>
<use href="#tr" x="1967.9" y="625"/>
<use href="#tr" x="1974.9" y="625"/>
<use href="#tr" x="1981.9" y="625"/>
<use href="#tr" x="1969.5" y="633"/>
<use href="#tr" x="1975.7" y="633"/>
<use href="#tr" x="1981.9" y="633"/>
<use href="#tr" x="1962.1" y="641"/>
<use href="#tr" x="1972" y="641"/>
<use href="#tr" x="1981.9" y="641"/>
<use href="#tr" x="1972.4" y="649"/>
<use href="#tr" x="1982.4" y="649"/>
<use href="#tr" x="1972.4" y="657"/>
<use href="#tr" x="1978.6" y="657"/>
<use href="#tr" x="1984.8" y="657"/>
<use href="#tr" x="1963.4" y="665"/>
<use href="#tr" x="1971.3" y="665"/>
<use href="#tr" x="1979.3" y="665"/>
<use href="#tr" x="1987.2" y="665"/>
<use href="#tr" x="1963.4" y="673"/>
<use href="#tr" x="1972.1" y="673"/>
<use href="#tr" x="1980.9" y="673"/>
<use href="#tr" x="1989.6" y="673"/>
<use href="#tr" x="1963.6" y="681"/>
<use href="#tr" x="1973" y="681"/>
<use href="#tr" x="1982.4" y="681"/>
<use href="#tr" x="1991.8" y="681"/>
<use href="#tr" x="1964.8" y="689"/>
<use href="#tr" x="1974.2" y="689"/>
<use href="#tr" x="1983.6" y="689"/>
<use href="#tr" x="1993" y="689"/>
<use href="#tr" x="1966" y="697"/>
<use href="#tr" x="1975.4" y="697"/>
<use href="#tr" x="1984.8" y="697"/>
<use href="#tr" x="1994.2" y="697"/>
<use href="#tr" x="1967.2" y="705"/>
<use href="#tr" x="1976.8" y="705"/>
<use href="#tr" x="1986.4" y="705"/>
<use href="#tr" x="1967.6" y="713"/>
<use href="#tr" x="1977.9" y="713"/>
<use href="#tr" x="1988.1" y="713"/>
<use href="#tr" x="1967.6" y="721"/>
<use href="#tr" x="1978.1" y="721"/>
<use href="#tr" x="1988.6" y="721"/>
<use href="#tr" x="1999.1" y="721"/>
<use href="#tr" x="1967.6" y="729"/>
<use href="#tr" x="1975.8" y="729"/>
<use href="#tr" x="1983.9" y="729"/>
<use href="#tr" x="1992.1" y="729"/>
<use href="#tr" x="1967.6" y="737"/>
<use href="#tr" x="1976.4" y="737"/>
<use href="#tr" x="1985.2" y="737"/>
<use href="#tr" x="1993.9" y="737"/>
<use href="#tr" x="1967.6" y="745"/>
<use href="#tr" x="1976.6" y="745"/>
<use href="#tr" x="1985.7" y="745"/>
<use href="#tr" x="1994.7" y="745"/>
<use href="#tr" x="2003.7" y="745"/>
<use href="#tr" x="1967.6" y="753"/>
<use href="#tr" x="1976.9" y="753"/>
<use href="#tr" x="1986.2" y="753"/>
<use href="#tr" x="1995.5" y="753"/>
<use href="#tr" x="1967.6" y="761"/>
<use href="#tr" x="1977.2" y="761"/>
<use href="#tr" x="1986.8" y="761"/>
<use href="#tr" x="1996.3" y="761"/>
<use href="#tr" x="1967.6" y="769"/>
<use href="#tr" x="1977.4" y="769"/>
<use href="#tr" x="1987.3" y="769"/>
<use href="#tr" x="1997.1" y="769"/>
<use href="#tr" x="2007" y="769"/>
<use href="#tr" x="1967.6" y="777"/>
<use href="#tr" x="1978.4" y="777"/>
<use href="#tr" x="1989.2" y="777"/>
<use href="#tr" x="2000" y="777"/>
<use href="#tr" x="1967.6" y="785"/>
<use href="#tr" x="1976.2" y="785"/>
<use href="#tr" x="1984.8" y="785"/>
<use href="#tr" x="1993.4" y="785"/>
<use href="#tr" x="2001.9" y="785"/>
<use href="#tr" x="1967.9" y="793"/>
<use href="#tr" x="1976.9" y="793"/>
<use href="#tr" x="1985.8" y="793"/>
<use href="#tr" x="1994.8" y="793"/>
<use href="#tr" x="2003.7" y="793"/>
<use href="#tr" x="2012.7" y="793"/>
<use href="#tr" x="1969.5" y="801"/>
<use href="#tr" x="1978.3" y="801"/>
<use href="#tr" x="1987" y="801"/>
<use href="#tr" x="1995.7" y="801"/>
<use href="#tr" x="2004.5" y="801"/>
<use href="#tr" x="1971.1" y="809"/>
<use href="#tr" x="1979.6" y="809"/>
<use href="#tr" x="1988.2" y="809"/>
<use href="#tr" x="1996.7" y="809"/>
<use href="#tr" x="2005.3" y="809"/>
<use href="#tr" x="1972.7" y="817"/>
<use href="#tr" x="1983.3" y="817"/>
<use href="#tr" x="1993.9" y="817"/>
<use href="#tr" x="2004.5" y="817"/>
<use href="#tr" x="2015.1" y="817"/>
<use href="#tr" x="1974" y="825"/>
<use href="#tr" x="1982.4" y="825"/>
<use href="#tr" x="1990.9" y="825"/>
<use href="#tr" x="1999.3" y="825"/>
<use href="#tr" x="2007.8" y="825"/>
<use href="#tr" x="1975.2" y="833"/>
<use href="#tr" x="1983.8" y="833"/>
<use href="#tr" x="1992.5" y="833"/>
<use href="#tr" x="2001.1" y="833"/>
<use href="#tr" x="2009.8" y="833"/>
<use href="#tr" x="1976.4" y="841"/>
<use href="#tr" x="1985.3" y="841"/>
<use href="#tr" x="1994.2" y="841"/>
<use href="#tr" x="2003" y="841"/>
<use href="#tr" x="2011.9" y="841"/>
<use href="#tr" x="2020.8" y="841"/>
<use href="#tr" x="1977.3" y="849"/>
<use href="#tr" x="1986.3" y="849"/>
<use href="#tr" x="1995.3" y="849"/>
<use href="#tr" x="2004.3" y="849"/>
<use href="#tr" x="2013.3" y="849"/>
<use href="#tr" x="1977.3" y="857"/>
<use href="#tr" x="1986.3" y="857"/>
<use href="#tr" x="1995.3" y="857"/>
<use href="#tr" x="2004.3" y="857"/>
<use href="#tr" x="2013.3" y="857"/>
<use href="#tr" x="1977.3" y="865"/>
<use href="#tr" x="1986.3" y="865"/>
<use href="#tr" x="1995.3" y="865"/>
<use href="#tr" x="2004.3" y="865"/>
<use href="#tr" x="2013.3" y="865"/>
<use href="#tr" x="2022.3" y="865"/>
<use href="#tr" x="1977.3" y="873"/>
<use href="#tr" x="1986.3" y="873"/>
<use href="#tr" x="1995.3" y="873"/>
<use href="#tr" x="2004.3" y="873"/>
<use href="#tr" x="2013.3" y="873"/>
<use href="#tr" x="1977.3" y="881"/>
<use href="#tr" x="1986.6" y="881"/>
<use href="#tr" x="1995.9" y="881"/>
<use href="#tr" x="2005.2" y="881"/>
<use href="#tr" x="2014.5" y="881"/>
<use href="#tr" x="1977.3" y="889"/>
<use href="#tr" x="1986.9" y="889"/>
<use href="#tr" x="1996.4" y="889"/>
<use href="#tr" x="2006" y="889"/>
<use href="#tr" x="2015.5" y="889"/>
<use href="#tr" x="2025.1" y="889"/>
<use href="#tr" x="1977.3" y="897"/>
<use href="#tr" x="1987.4" y="897"/>
<use href="#tr" x="1997.5" y="897"/>
<use href="#tr" x="2007.6" y="897"/>
<use href="#tr" x="2017.7" y="897"/>
<use href="#tr" x="1977.3" y="905"/>
<use href="#tr" x="1987.8" y="905"/>
<use href="#tr" x="1998.3" y="905"/>
<use href="#tr" x="2008.8" y="905"/>
<use href="#tr" x="2019.3" y="905"/>
<use href="#tr" x="1977.3" y="913"/>
<use href="#tr" x="1987.8" y="913"/>
<use href="#tr" x="1998.3" y="913"/>
<use href="#tr" x="2008.8" y="913"/>
<use href="#tr" x="2019.4" y="913"/>
<use href="#tr" x="2029.9" y="913"/>
<use href="#tr" x="1977.3" y="921"/>
<use href="#tr" x="1986.3" y="921"/>
<use href="#tr" x="1995.4" y="921"/>
<use href="#tr" x="2004.4" y="921"/>
<use href="#tr" x="2013.4" y="921"/>
<use href="#tr" x="2022.5" y="921"/>
<use href="#tr" x="1977.3" y="929"/>
<use href="#tr" x="1986.7" y="929"/>
<use href="#tr" x="1996" y="929"/>
<use href="#tr" x="2005.4" y="929"/>
<use href="#tr" x="2014.7" y="929"/>
<use href="#tr" x="2024.1" y="929"/>
<use href="#tr" x="1977.3" y="937"/>
<use href="#tr" x="1986.8" y="937"/>
<use href="#tr" x="1996.3" y="937"/>
<use href="#tr" x="2005.8" y="937"/>
<use href="#tr" x="2015.4" y="937"/>
<use href="#tr" x="2024.9" y="937"/>
<use href="#tr" x="2034.4" y="937"/>
<use href="#tr" x="1977.3" y="945"/>
<use href="#tr" x="1987.2" y="945"/>
<use href="#tr" x="1997" y="945"/>
<use href="#tr" x="2006.9" y="945"/>
<use href="#tr" x="2016.7" y="945"/>
<use href="#tr" x="2026.6" y="945"/>
<use href="#tr" x="1977.3" y="953"/>
<use href="#tr" x="1987.4" y="953"/>
<use href="#tr" x="1997.5" y="953"/>
<use href="#tr" x="2007.6" y="953"/>
<use href="#tr" x="2017.7" y="953"/>
<use href="#tr" x="2027.8" y="953"/>
<use href="#tr" x="1976.2" y="961"/>
<use href="#tr" x="1986.4" y="961"/>
<use href="#tr" x="1996.7" y="961"/>
<use href="#tr" x="2006.9" y="961"/>
<use href="#tr" x="2017.1" y="961"/>
<use href="#tr" x="2027.4" y="961"/>
<use href="#tr" x="2037.6" y="961"/>
<use href="#tr" x="1973" y="969"/>
<use href="#tr" x="1982.3" y="969"/>
<use href="#tr" x="1991.5" y="969"/>
<use href="#tr" x="2000.8" y="969"/>
<use href="#tr" x="2010.1" y="969"/>
<use href="#tr" x="2019.3" y="969"/>
<use href="#tr" x="2028.6" y="969"/>
<use href="#tr" x="1968.8" y="977"/>
<use href="#tr" x="1979" y="977"/>
<use href="#tr" x="1989.1" y="977"/>
<use href="#tr" x="1999.2" y="977"/>
<use href="#tr" x="2009.3" y="977"/>
<use href="#tr" x="2019.4" y="977"/>
<use href="#tr" x="2029.6" y="977"/>
<use href="#tr" x="1964.1" y="985"/>
<use href="#tr" x="1996.7" y="985"/>
<use href="#tr" x="2007.6" y="985"/>
<use href="#tr" x="2018.4" y="985"/>
<use href="#tr" x="2029.3" y="985"/>
<use href="#tr" x="2040.2" y="985"/>
<use href="#tr" x="1963.8" y="985"/>
<use href="#tr" x="1993" y="985"/>
<use href="#tr" x="1961.7" y="993"/>
<use href="#tr" x="2002.7" y="993"/>
<use href="#tr" x="2012.9" y="993"/>
<use href="#tr" x="2023.2" y="993"/>
<use href="#tr" x="2033.5" y="993"/>
<use href="#tr" x="1962.7" y="993"/>
<use href="#tr" x="1995.1" y="993"/>
<use href="#tr" x="1959.7" y="1001"/>
<use href="#tr" x="2003.2" y="1001"/>
<use href="#tr" x="2014.1" y="1001"/>
<use href="#tr" x="2025" y="1001"/>
<use href="#tr" x="2035.8" y="1001"/>
<use href="#tr" x="1960.7" y="1001"/>
<use href="#tr" x="1995.5" y="1001"/>
<use href="#tr" x="1957.7" y="1009"/>
<use href="#tr" x="1997.5" y="1009"/>
<use href="#tr" x="2007.4" y="1009"/>
<use href="#tr" x="2017.4" y="1009"/>
<use href="#tr" x="2027.3" y="1009"/>
<use href="#tr" x="2037.3" y="1009"/>
<use href="#tr" x="2047.2" y="1009"/>
<use href="#tr" x="1958.7" y="1009"/>
<use href="#tr" x="1995.9" y="1009"/>
<use href="#tr" x="1957.2" y="1017"/>
<use href="#tr" x="1998.4" y="1017"/>
<use href="#tr" x="2008.7" y="1017"/>
<use href="#tr" x="2019.1" y="1017"/>
<use href="#tr" x="2029.4" y="1017"/>
<use href="#tr" x="2039.7" y="1017"/>
<use href="#tr" x="1958.1" y="1017"/>
<use href="#tr" x="1996.8" y="1017"/>
<use href="#tr" x="1959.2" y="1025"/>
<use href="#tr" x="1999.4" y="1025"/>
<use href="#tr" x="2009.5" y="1025"/>
<use href="#tr" x="2019.6" y="1025"/>
<use href="#tr" x="2029.6" y="1025"/>
<use href="#tr" x="2039.7" y="1025"/>
<use href="#tr" x="1959.7" y="1025"/>
<use href="#tr" x="1998.4" y="1025"/>
<use href="#tr" x="1961.2" y="1033"/>
<use href="#tr" x="2004.9" y="1033"/>
<use href="#tr" x="2015.9" y="1033"/>
<use href="#tr" x="2026.8" y="1033"/>
<use href="#tr" x="2037.8" y="1033"/>
<use href="#tr" x="2048.7" y="1033"/>
<use href="#tr" x="1961.3" y="1033"/>
<use href="#tr" x="2000" y="1033"/>
<use href="#tr" x="1963.2" y="1041"/>
<use href="#tr" x="2006.9" y="1041"/>
<use href="#tr" x="2017.8" y="1041"/>
<use href="#tr" x="2028.8" y="1041"/>
<use href="#tr" x="2039.7" y="1041"/>
<use href="#tr" x="1962.8" y="1041"/>
<use href="#tr" x="2001.5" y="1041"/>
<use href="#tr" x="1963.4" y="1049"/>
<use href="#tr" x="2002.1" y="1049"/>
<use href="#tr" x="2011.8" y="1049"/>
<use href="#tr" x="2021.4" y="1049"/>
<use href="#tr" x="2031.1" y="1049"/>
<use href="#tr" x="2040.8" y="1049"/>
<use href="#tr" x="1963" y="1049"/>
<use href="#tr" x="2001.7" y="1049"/>
<use href="#tr" x="1963.4" y="1057"/>
<use href="#tr" x="2007.2" y="1057"/>
<use href="#tr" x="2018.1" y="1057"/>
<use href="#tr" x="2029.1" y="1057"/>
<use href="#tr" x="2040" y="1057"/>
<use href="#tr" x="2051" y="1057"/>
<use href="#tr" x="1963" y="1057"/>
<use href="#tr" x="2001.7" y="1057"/>
<use href="#tr" x="1963.4" y="1065"/>
<use href="#tr" x="2003.3" y="1065"/>
<use href="#tr" x="2013.3" y="1065"/>
<use href="#tr" x="2023.3" y="1065"/>
<use href="#tr" x="2033.2" y="1065"/>
<use href="#tr" x="2043.2" y="1065"/>
<use href="#tr" x="1963" y="1065"/>
<use href="#tr" x="2001.7" y="1065"/>
<use href="#tr" x="1963.9" y="1073"/>
<use href="#tr" x="2003.9" y="1073"/>
<use href="#tr" x="2013.9" y="1073"/>
<use href="#tr" x="2023.9" y="1073"/>
<use href="#tr" x="2033.9" y="1073"/>
<use href="#tr" x="2043.9" y="1073"/>
<use href="#tr" x="1963.7" y="1073"/>
<use href="#tr" x="2001.7" y="1073"/>
<use href="#tr" x="1965.1" y="1081"/>
<use href="#tr" x="2009" y="1081"/>
<use href="#tr" x="2020" y="1081"/>
<use href="#tr" x="2031" y="1081"/>
<use href="#tr" x="2041.9" y="1081"/>
<use href="#tr" x="2052.9" y="1081"/>
<use href="#tr" x="1965.3" y="1081"/>
<use href="#tr" x="2001.7" y="1081"/>
<use href="#tr" x="1966.3" y="1089"/>
<use href="#tr" x="2005.1" y="1089"/>
<use href="#tr" x="2014.8" y="1089"/>
<use href="#tr" x="2024.5" y="1089"/>
<use href="#tr" x="2034.2" y="1089"/>
<use href="#tr" x="2043.9" y="1089"/>
<use href="#tr" x="1966.9" y="1089"/>
<use href="#tr" x="2001.7" y="1089"/>
<use href="#tr" x="1967.5" y="1097"/>
<use href="#tr" x="2000.3" y="1097"/>
<use href="#tr" x="2011.2" y="1097"/>
<use href="#tr" x="2022.1" y="1097"/>
<use href="#tr" x="2033" y="1097"/>
<use href="#tr" x="2043.9" y="1097"/>
<use href="#tr" x="1968.5" y="1097"/>
<use href="#tr" x="2001.7" y="1097"/>
<use href="#tr" x="1969.1" y="1105"/>
<use href="#tr" x="2001.1" y="1105"/>
<use href="#tr" x="2011.7" y="1105"/>
<use href="#tr" x="2022.4" y="1105"/>
<use href="#tr" x="2033.1" y="1105"/>
<use href="#tr" x="2043.7" y="1105"/>
<use href="#tr" x="2054.4" y="1105"/>
<use href="#tr" x="1970.1" y="1105"/>
<use href="#tr" x="2002.8" y="1105"/>
<use href="#tr" x="1970.7" y="1113"/>
<use href="#tr" x="2003.4" y="1113"/>
<use href="#tr" x="2014.3" y="1113"/>
<use href="#tr" x="2025.2" y="1113"/>
<use href="#tr" x="2036.1" y="1113"/>
<use href="#tr" x="2047" y="1113"/>
<use href="#tr" x="1971.7" y="1113"/>
<use href="#tr" x="2004" y="1113"/>
<use href="#tr" x="1972.2" y="1121"/>
<use href="#tr" x="2005" y="1121"/>
<use href="#tr" x="2015.9" y="1121"/>
<use href="#tr" x="2026.8" y="1121"/>
<use href="#tr" x="2037.7" y="1121"/>
<use href="#tr" x="2048.6" y="1121"/>
<use href="#tr" x="1973.3" y="1121"/>
<use href="#tr" x="2005.3" y="1121"/>
<use href="#tr" x="1973.1" y="1129"/>
<use href="#tr" x="2005.1" y="1129"/>
<use href="#tr" x="2015.8" y="1129"/>
<use href="#tr" x="2026.5" y="1129"/>
<use href="#tr" x="2037.2" y="1129"/>
<use href="#tr" x="2047.8" y="1129"/>
<use href="#tr" x="2058.5" y="1129"/>
<use href="#tr" x="1974.4" y="1129"/>
<use href="#tr" x="2006.2" y="1129"/>
<use href="#tr" x="1973.1" y="1137"/>
<use href="#tr" x="2005.8" y="1137"/>
<use href="#tr" x="2016.8" y="1137"/>
<use href="#tr" x="2027.7" y="1137"/>
<use href="#tr" x="2038.6" y="1137"/>
<use href="#tr" x="2049.5" y="1137"/>
<use href="#tr" x="1974.7" y="1137"/>
<use href="#tr" x="2006.9" y="1137"/>
<use href="#tr" x="1973.1" y="1145"/>
<use href="#tr" x="2005.8" y="1145"/>
<use href="#tr" x="2016.8" y="1145"/>
<use href="#tr" x="2027.7" y="1145"/>
<use href="#tr" x="2038.6" y="1145"/>
<use href="#tr" x="2049.5" y="1145"/>
<use href="#tr" x="1975" y="1145"/>
<use href="#tr" x="2007.6" y="1145"/>
<use href="#tr" x="1973.6" y="1153"/>
<use href="#tr" x="2016.6" y="1153"/>
<use href="#tr" x="2027.3" y="1153"/>
<use href="#tr" x="2038.1" y="1153"/>
<use href="#tr" x="2048.8" y="1153"/>
<use href="#tr" x="2059.5" y="1153"/>
<use href="#tr" x="1975.4" y="1153"/>
<use href="#tr" x="2008.3" y="1153"/>
<use href="#tr" x="1974.8" y="1161"/>
<use href="#tr" x="2013.6" y="1161"/>
<use href="#tr" x="2023.3" y="1161"/>
<use href="#tr" x="2033" y="1161"/>
<use href="#tr" x="2042.7" y="1161"/>
<use href="#tr" x="2052.4" y="1161"/>
<use href="#tr" x="1976.2" y="1161"/>
<use href="#tr" x="2009" y="1161"/>
<use href="#tr" x="1975.6" y="1169"/>
<use href="#tr" x="2014.2" y="1169"/>
<use href="#tr" x="2023.8" y="1169"/>
<use href="#tr" x="2033.5" y="1169"/>
<use href="#tr" x="2043.1" y="1169"/>
<use href="#tr" x="2052.8" y="1169"/>
<use href="#tr" x="1977.8" y="1169"/>
<use href="#tr" x="2009.8" y="1169"/>
<use href="#tr" x="1976.4" y="1177"/>
<use href="#tr" x="2019.3" y="1177"/>
<use href="#tr" x="2030" y="1177"/>
<use href="#tr" x="2040.7" y="1177"/>
<use href="#tr" x="2051.4" y="1177"/>
<use href="#tr" x="2062.2" y="1177"/>
<use href="#tr" x="1979.4" y="1177"/>
<use href="#tr" x="2010.6" y="1177"/>
<use href="#tr" x="1977.2" y="1185"/>
<use href="#tr" x="2009.9" y="1185"/>
<use href="#tr" x="2020.8" y="1185"/>
<use href="#tr" x="2031.8" y="1185"/>
<use href="#tr" x="2042.7" y="1185"/>
<use href="#tr" x="2053.6" y="1185"/>
<use href="#tr" x="1981" y="1185"/>
<use href="#tr" x="2011.4" y="1185"/>
<use href="#tr" x="1978.8" y="1193"/>
<use href="#tr" x="2011.5" y="1193"/>
<use href="#tr" x="2022.4" y="1193"/>
<use href="#tr" x="2033.3" y="1193"/>
<use href="#tr" x="2044.2" y="1193"/>
<use href="#tr" x="2055.1" y="1193"/>
<use href="#tr" x="1982.6" y="1193"/>
<use href="#tr" x="2012.2" y="1193"/>
<use href="#tr" x="1980.4" y="1201"/>
<use href="#tr" x="2012.4" y="1201"/>
<use href="#tr" x="2023" y="1201"/>
<use href="#tr" x="2033.7" y="1201"/>
<use href="#tr" x="2044.4" y="1201"/>
<use href="#tr" x="2055" y="1201"/>
<use href="#tr" x="2065.7" y="1201"/>
<use href="#tr" x="1984.2" y="1201"/>
<use href="#tr" x="2013" y="1201"/>
<use href="#tr" x="1982" y="1209"/>
<use href="#tr" x="2014.7" y="1209"/>
<use href="#tr" x="2025.6" y="1209"/>
<use href="#tr" x="2036.5" y="1209"/>
<use href="#tr" x="2047.4" y="1209"/>
<use href="#tr" x="2058.3" y="1209"/>
<use href="#tr" x="1985.8" y="1209"/>
<use href="#tr" x="2013.8" y="1209"/>
<use href="#tr" x="1983.4" y="1217"/>
<use href="#tr" x="2015.9" y="1217"/>
<use href="#tr" x="2026.7" y="1217"/>
<use href="#tr" x="2037.5" y="1217"/>
<use href="#tr" x="2048.4" y="1217"/>
<use href="#tr" x="2059.2" y="1217"/>
<use href="#tr" x="1987.4" y="1217"/>
<use href="#tr" x="2014.6" y="1217"/>
<use href="#tr" x="1984.6" y="1225"/>
<use href="#tr" x="2015.9" y="1225"/>
<use href="#tr" x="2026.4" y="1225"/>
<use href="#tr" x="2036.8" y="1225"/>
<use href="#tr" x="2047.3" y="1225"/>
<use href="#tr" x="2057.7" y="1225"/>
<use href="#tr" x="2068.2" y="1225"/>
<use href="#tr" x="1988.9" y="1225"/>
<use href="#tr" x="2015.4" y="1225"/>
<use href="#tr" x="1985.8" y="1233"/>
<use href="#tr" x="2017.2" y="1233"/>
<use href="#tr" x="2027.7" y="1233"/>
<use href="#tr" x="2038.2" y="1233"/>
<use href="#tr" x="2048.7" y="1233"/>
<use href="#tr" x="2059.2" y="1233"/>
<use href="#tr" x="1990.4" y="1233"/>
<use href="#tr" x="2016.2" y="1233"/>
<use href="#tr" x="1987" y="1241"/>
<use href="#tr" x="2017.9" y="1241"/>
<use href="#tr" x="2028.2" y="1241"/>
<use href="#tr" x="2038.6" y="1241"/>
<use href="#tr" x="2048.9" y="1241"/>
<use href="#tr" x="2059.2" y="1241"/>
<use href="#tr" x="1991.9" y="1241"/>
<use href="#tr" x="2017" y="1241"/>
<use href="#tr" x="1987.4" y="1249"/>
<use href="#tr" x="1997.6" y="1249"/>
<use href="#tr" x="2007.9" y="1249"/>
<use href="#tr" x="2018.1" y="1249"/>
<use href="#tr" x="2028.4" y="1249"/>
<use href="#tr" x="2038.6" y="1249"/>
<use href="#tr" x="2048.9" y="1249"/>
<use href="#tr" x="2059.1" y="1249"/>
<use href="#tr" x="2069.4" y="1249"/>
<use href="#tr" x="1987.8" y="1257"/>
<use href="#tr" x="1998.3" y="1257"/>
<use href="#tr" x="2008.9" y="1257"/>
<use href="#tr" x="2019.4" y="1257"/>
<use href="#tr" x="2029.9" y="1257"/>
<use href="#tr" x="2040.5" y="1257"/>
<use href="#tr" x="2051" y="1257"/>
<use href="#tr" x="2061.6" y="1257"/>
<use href="#tr" x="1988.2" y="1265"/>
<use href="#tr" x="1998.8" y="1265"/>
<use href="#tr" x="2009.5" y="1265"/>
<use href="#tr" x="2020.2" y="1265"/>
<use href="#tr" x="2030.8" y="1265"/>
<use href="#tr" x="2041.5" y="1265"/>
<use href="#tr" x="2052.1" y="1265"/>
<use href="#tr" x="2062.8" y="1265"/>
<use href="#tr" x="1989" y="1273"/>
<use href="#tr" x="1999.3" y="1273"/>
<use href="#tr" x="2009.7" y="1273"/>
<use href="#tr" x="2020" y="1273"/>
<use href="#tr" x="2030.4" y="1273"/>
<use href="#tr" x="2040.8" y="1273"/>
<use href="#tr" x="2051.1" y="1273"/>
<use href="#tr" x="2061.5" y="1273"/>
<use href="#tr" x="2071.8" y="1273"/>
<use href="#tr" x="1990.2" y="1281"/>
<use href="#tr" x="2000.4" y="1281"/>
<use href="#tr" x="2010.6" y="1281"/>
<use href="#tr" x="2020.8" y="1281"/>
<use href="#tr" x="2031" y="1281"/>
<use href="#tr" x="2041.2" y="1281"/>
<use href="#tr" x="2051.4" y="1281"/>
<use href="#tr" x="2061.6" y="1281"/>
<use href="#tr" x="1991.4" y="1289"/>
<use href="#tr" x="2001.3" y="1289"/>
<use href="#tr" x="2011.1" y="1289"/>
<use href="#tr" x="2021" y="1289"/>
<use href="#tr" x="2030.8" y="1289"/>
<use href="#tr" x="2040.7" y="1289"/>
<use href="#tr" x="2050.5" y="1289"/>
<use href="#tr" x="2060.4" y="1289"/>
<use href="#tr" x="1992.6" y="1297"/>
<use href="#tr" x="2003.4" y="1297"/>
<use href="#tr" x="2014.2" y="1297"/>
<use href="#tr" x="2025" y="1297"/>
<use href="#tr" x="2035.8" y="1297"/>
<use href="#tr" x="2046.6" y="1297"/>
<use href="#tr" x="2057.4" y="1297"/>
<use href="#tr" x="2068.2" y="1297"/>
<use href="#tr" x="1993.8" y="1305"/>
<use href="#tr" x="2004.7" y="1305"/>
<use href="#tr" x="2015.6" y="1305"/>
<use href="#tr" x="2026.5" y="1305"/>
<use href="#tr" x="2037.4" y="1305"/>
<use href="#tr" x="2048.3" y="1305"/>
<use href="#tr" x="2059.2" y="1305"/>
<use href="#tr" x="1995" y="1313"/>
<use href="#tr" x="2005.7" y="1313"/>
<use href="#tr" x="2016.4" y="1313"/>
<use href="#tr" x="2027.1" y="1313"/>
<use href="#tr" x="2037.8" y="1313"/>
<use href="#tr" x="2048.5" y="1313"/>
<use href="#tr" x="2059.2" y="1313"/>
<use href="#tr" x="1996.2" y="1321"/>
<use href="#tr" x="2006.5" y="1321"/>
<use href="#tr" x="2016.8" y="1321"/>
<use href="#tr" x="2027.1" y="1321"/>
<use href="#tr" x="2037.4" y="1321"/>
<use href="#tr" x="2047.6" y="1321"/>
<use href="#tr" x="2057.9" y="1321"/>
<use href="#tr" x="2068.2" y="1321"/>
<use href="#tr" x="1997.6" y="1329"/>
<use href="#tr" x="2007.7" y="1329"/>
<use href="#tr" x="2017.9" y="1329"/>
<use href="#tr" x="2028" y="1329"/>
<use href="#tr" x="2038.1" y="1329"/>
<use href="#tr" x="2048.2" y="1329"/>
<use href="#tr" x="2058.4" y="1329"/>
<use href="#tr" x="1999.2" y="1337"/>
<use href="#tr" x="2008.8" y="1337"/>
<use href="#tr" x="2018.4" y="1337"/>
<use href="#tr" x="2028" y="1337"/>
<use href="#tr" x="2037.6" y="1337"/>
<use href="#tr" x="2047.2" y="1337"/>
<use href="#tr" x="2056.8" y="1337"/>
<use href="#tr" x="2000.8" y="1345"/>
<use href="#tr" x="2011.3" y="1345"/>
<use href="#tr" x="2021.9" y="1345"/>
<use href="#tr" x="2032.5" y="1345"/>
<use href="#tr" x="2043" y="1345"/>
<use href="#tr" x="2053.6" y="1345"/>
<use href="#tr" x="2064.1" y="1345"/>
<use href="#tr" x="2002.3" y="1353"/>
<use href="#tr" x="2012.6" y="1353"/>
<use href="#tr" x="2022.8" y="1353"/>
<use href="#tr" x="2033.1" y="1353"/>
<use href="#tr" x="2043.3" y="1353"/>
<use href="#tr" x="2053.6" y="1353"/>
<use href="#tr" x="2002.3" y="1361"/>
<use href="#tr" x="2012.5" y="1361"/>
<use href="#tr" x="2022.7" y="1361"/>
<use href="#tr" x="2032.8" y="1361"/>
<use href="#tr" x="2043" y="1361"/>
<use href="#tr" x="2053.2" y="1361"/>
<use href="#tr" x="2002.3" y="1369"/>
<use href="#tr" x="2012.2" y="1369"/>
<use href="#tr" x="2022.1" y="1369"/>
<use href="#tr" x="2032" y="1369"/>
<use href="#tr" x="2042" y="1369"/>
<use href="#tr" x="2051.9" y="1369"/>
<use href="#tr" x="2061.8" y="1369"/>
<use href="#tr" x="2002.3" y="1377"/>
<use href="#tr" x="2012.3" y="1377"/>
<use href="#tr" x="2022.3" y="1377"/>
<use href="#tr" x="2032.3" y="1377"/>
<use href="#tr" x="2042.4" y="1377"/>
<use href="#tr" x="2052.4" y="1377"/>
<use href="#tr" x="2002.8" y="1385"/>
<use href="#tr" x="2012.6" y="1385"/>
<use href="#tr" x="2022.4" y="1385"/>
<use href="#tr" x="2032.2" y="1385"/>
<use href="#tr" x="2042" y="1385"/>
<use href="#tr" x="2051.8" y="1385"/>
<use href="#tr" x="2003.6" y="1393"/>
<use href="#tr" x="2013" y="1393"/>
<use href="#tr" x="2022.4" y="1393"/>
<use href="#tr" x="2031.8" y="1393"/>
<use href="#tr" x="2041.2" y="1393"/>
<use href="#tr" x="2050.6" y="1393"/>
<use href="#tr" x="2060" y="1393"/>
<use href="#tr" x="2004.4" y="1401"/>
<use href="#tr" x="2013.5" y="1401"/>
<use href="#tr" x="2022.7" y="1401"/>
<use href="#tr" x="2031.9" y="1401"/>
<use href="#tr" x="2041" y="1401"/>
<use href="#tr" x="2050.2" y="1401"/>
<use href="#tr" x="2005.2" y="1409"/>
<use href="#tr" x="2014" y="1409"/>
<use href="#tr" x="2022.8" y="1409"/>
<use href="#tr" x="2031.7" y="1409"/>
<use href="#tr" x="2040.5" y="1409"/>
<use href="#tr" x="2049.3" y="1409"/>
<use href="#tr" x="2006" y="1417"/>
<use href="#tr" x="2016" y="1417"/>
<use href="#tr" x="2026.1" y="1417"/>
<use href="#tr" x="2036.2" y="1417"/>
<use href="#tr" x="2046.2" y="1417"/>
<use href="#tr" x="2056.3" y="1417"/>
<use href="#tr" x="2006.8" y="1425"/>
<use href="#tr" x="2016.4" y="1425"/>
<use href="#tr" x="2026" y="1425"/>
<use href="#tr" x="2035.7" y="1425"/>
<use href="#tr" x="2045.3" y="1425"/>
<use href="#tr" x="2007.6" y="1433"/>
<use href="#tr" x="2016.5" y="1433"/>
<use href="#tr" x="2025.4" y="1433"/>
<use href="#tr" x="2034.4" y="1433"/>
<use href="#tr" x="2043.3" y="1433"/>
<use href="#tr" x="2007.4" y="1441"/>
<use href="#tr" x="2018.2" y="1441"/>
<use href="#tr" x="2029.1" y="1441"/>
<use href="#tr" x="2039.9" y="1441"/>
<use href="#tr" x="2050.8" y="1441"/>
<use href="#tr" x="2006.6" y="1449"/>
<use href="#tr" x="2015.1" y="1449"/>
<use href="#tr" x="2023.6" y="1449"/>
<use href="#tr" x="2032.1" y="1449"/>
<use href="#tr" x="2040.6" y="1449"/>
<use href="#tr" x="2005.8" y="1457"/>
<use href="#tr" x="2014.2" y="1457"/>
<use href="#tr" x="2022.6" y="1457"/>
<use href="#tr" x="2031" y="1457"/>
<use href="#tr" x="2039.4" y="1457"/>
<use href="#tr" x="2004.8" y="1465"/>
<use href="#tr" x="2015.4" y="1465"/>
<use href="#tr" x="2026" y="1465"/>
<use href="#tr" x="2036.5" y="1465"/>
<use href="#tr" x="2047.1" y="1465"/>
<use href="#tr" x="2002.4" y="1473"/>
<use href="#tr" x="2010.9" y="1473"/>
<use href="#tr" x="2019.5" y="1473"/>
<use href="#tr" x="2028" y="1473"/>
<use href="#tr" x="2036.5" y="1473"/>
<use href="#tr" x="2000" y="1481"/>
<use href="#tr" x="2008.8" y="1481"/>
<use href="#tr" x="2017.5" y="1481"/>
<use href="#tr" x="2026.2" y="1481"/>
<use href="#tr" x="2034.9" y="1481"/>
<use href="#tr" x="2016.7" y="1489"/>
<use href="#tr" x="2025.3" y="1489"/>
<use href="#tr" x="2033.8" y="1489"/>
<use href="#tr" x="2042.4" y="1489"/>
<use href="#tr" x="2016.7" y="1497"/>
<use href="#tr" x="2024.5" y="1497"/>
<use href="#tr" x="2032.3" y="1497"/>
<use href="#tr" x="2016.7" y="1505"/>
<use href="#tr" x="2024.1" y="1505"/>
<use href="#tr" x="2031.5" y="1505"/>
<use href="#tr" x="2016.7" y="1513"/>
<use href="#tr" x="2024.4" y="1513"/>
<use href="#tr" x="2032" y="1513"/>
<use href="#tr" x="2039.7" y="1513"/>
<use href="#tr" x="2016.7" y="1521"/>
<use href="#tr" x="2023.3" y="1521"/>
<use href="#tr" x="2029.9" y="1521"/>
<use href="#tr" x="2016.7" y="1529"/>
<use href="#tr" x="2023.1" y="1529"/>
<use href="#tr" x="2029.5" y="1529"/>
<use href="#tr" x="2016.7" y="1537"/>
<use href="#tr" x="2027.4" y="1537"/>
<use href="#tr" x="2038.1" y="1537"/>
<use href="#tr" x="2016.7" y="1545"/>
<use href="#tr" x="2022.7" y="1545"/>
<use href="#tr" x="2028.7" y="1545"/>
<use href="#tr" x="2016.7" y="1553"/>
<use href="#tr" x="2022.7" y="1553"/>
<use href="#tr" x="2028.6" y="1553"/>
<use href="#tr" x="2016.7" y="1561"/>
<use href="#tr" x="2027.2" y="1561"/>
<use href="#tr" x="2037.6" y="1561"/>
<use href="#tr" x="2016.7" y="1569"/>
<use href="#tr" x="2022.7" y="1569"/>
<use href="#tr" x="2028.6" y="1569"/>
<use href="#tr" x="2017" y="1574.5"/>
<use href="#tr" x="2028" y="1574.5"/>
<use href="#tr" x="2038.5" y="1574.5"/>
<use href="#tr" x="1987" y="1486"/>
<use href="#tr" x="1987" y="1504.6"/>
<use href="#tr" x="1987" y="1540"/>
<use href="#tr" x="1987" y="1568"/>
<use href="#tr" x="1987" y="1574.5"/>
<path d="M1976.6,685.2h5l-2.5,6z" fill="#fdfdfd"/>
<path d="M1970.3,697.9h4l-2,8h-2z" fill="#fdfdfd"/>
<path d="M1982.7,709.6h5l-2.5,6z" fill="#fdfdfd"/>
<path d="M1987.2,741.6h4l-2,8h-2z" fill="#fdfdfd"/>
<path d="M1993.8,789.4h5l-2.5,6z" fill="#fdfdfd"/>
<path d="M2002.7,819.8h5l-2.5,6z" fill="#fdfdfd"/>
<path d="M1991.4,888.8h5l-2.5,6z" fill="#fdfdfd"/>
<path d="M2012.6,911.7h4l-2,8h-2z" fill="#fdfdfd"/>
<path d="M1997,923.4h4l-2,8h-2z" fill="#fdfdfd"/>
<path d="M2007,953.7h5l-2.5,6z" fill="#fdfdfd"/>
<path d="M1994.8,985.3h5l-2.5,6z" fill="#fdfdfd"/>
<path d="M2033.5,997.5h5l-2.5,6z" fill="#fdfdfd"/>
<path d="M2031,1028.1h6l-2,4l-2,4h-2l1,-4z" fill="#fdfdfd"/>
<path d="M2018.5,1040h4l-2,8h-2z" fill="#fdfdfd"/>
<path d="M2033.4,1078.6h5l-2.5,6z" fill="#fdfdfd"/>
<path d="M2042.2,1133.3h5l-2.5,6z" fill="#fdfdfd"/>
<path d="M2050.3,1182.8h4l-2,8h-2z" fill="#fdfdfd"/>
<path d="M2052.6,1220.4h5l-2.5,6z" fill="#fdfdfd"/>
<path d="M2046.6,1228.8h4l-2,8h-2z" fill="#fdfdfd"/>
<path d="M2054.6,1248.5h4l-2,8h-2z" fill="#fdfdfd"/>
<path d="M2055.6,1288h5l-2.5,6z" fill="#fdfdfd"/>
<path d="M2025.4,1290.5h4l-2,8h-2z" fill="#fdfdfd"/>
<path d="M2056.2,1316h4l-2,8h-2z" fill="#fdfdfd"/>
<path d="M2044.5,1377.9h4l-2,8h-2z" fill="#fdfdfd"/>
<path d="M2045.7,1405.4h5l-2.5,6z" fill="#fdfdfd"/>
<path d="M2034.9,1427.3h5l-2.5,6z" fill="#fdfdfd"/>
<path d="M2016.9,1468h4l-2,8h-2z" fill="#fdfdfd"/>
<path d="M2029.1,1484.5h5l-2.5,6z" fill="#fdfdfd"/>
<path d="M2024.9,1494.7h5l-2.5,6z" fill="#fdfdfd"/>
<path d="M1939.5,494h5l-2.5,6z" fill="#fdfdfd"/>
<path d="M1947.5,557h5l-2.5,6z" fill="#fdfdfd"/>
<path d="M1969.5,637h5l-2.5,6z" fill="#fdfdfd"/>
</g>
<g id="inset">
<rect x="438" y="1092" width="781" height="306" fill="#fdfdfd"/>
<rect x="439.3" y="1153" width="779.5" height="70.4" fill="#fff" stroke="#3c3c3c" stroke-width="1.6"/>
<rect x="462.6" y="1165.8" width="733.9" height="45" rx="13" ry="13" fill="none" stroke="#000" stroke-width="6.2"/>
<rect x="501.6" y="1185.2" width="250.4" height="62.1" rx="11" ry="11" fill="#fff" stroke="#7a7a7a" stroke-width="2.2"/>
<rect x="911.8" y="1188.9" width="250.5" height="62.6" rx="11" ry="11" fill="#fff" stroke="#7a7a7a" stroke-width="2.2"/>
<g stroke="#000" fill="none">
<line x1="589.3" y1="1221.4" x2="663" y2="1221.4" stroke-width="4"/>
<line x1="626.8" y1="1221.4" x2="626.8" y2="1390.6" stroke-width="5"/>
<line x1="535.5" y1="1390.6" x2="716.7" y2="1390.6" stroke-width="4.6"/>
<line x1="999.7" y1="1225.3" x2="1073.2" y2="1225.3" stroke-width="4"/>
<line x1="1037" y1="1225.3" x2="1037" y2="1394" stroke-width="5"/>
<line x1="946" y1="1394" x2="1127.2" y2="1394" stroke-width="4.6"/>
</g>
<circle cx="828.9" cy="1163.5" r="10.5" fill="#ff0000"/>
<circle cx="828.9" cy="1211.7" r="10.5" fill="#ff0000"/>
<text x="784" y="1133.8" font-family="'Liberation Serif', serif" font-size="36" fill="#000">Upper</text>
<text x="783.5" y="1255.7" font-family="'Liberation Serif', serif" font-size="36" fill="#000">Lower</text>
</g>
<g id="legend">
<rect x="438" y="1429" width="1002" height="100" fill="#fdfdfd"/>
<line x1="441.3" y1="1489" x2="566.5" y2="1489" stroke="#0000ff" stroke-width="5.6"/>
<use href="#sq" x="504" y="1489"/>
<text x="579" y="1506.3" font-family="'Liberation Serif', serif" font-size="66" fill="#000" textLength="316.5" lengthAdjust="spacingAndGlyphs">Upper_Slab</text>
<line x1="975" y1="1489" x2="1103.2" y2="1489" stroke="#ff0000" stroke-width="5.6"/>
<use href="#tr" x="1038" y="1489"/>
<text x="1112.5" y="1506.3" font-family="'Liberation Serif', serif" font-size="66" fill="#000" textLength="315" lengthAdjust="spacingAndGlyphs">Lower_Slab</text>
</g>
<g font-family="'Liberation Serif', serif" font-size="64.5" fill="#000">
<text x="314" y="77.3" text-anchor="end" letter-spacing="-1.6">2500</text>
<text x="314" y="384.7" text-anchor="end" letter-spacing="-1.6">2000</text>
<text x="314" y="684.7" text-anchor="end" letter-spacing="-1.6">1500</text>
<text x="314" y="992.7" text-anchor="end" letter-spacing="-1.6">1000</text>
<text x="314" y="1295" text-anchor="end" letter-spacing="-1.6">500</text>
<text x="314" y="1599.2" text-anchor="end" letter-spacing="-1.6">0</text>
<text x="373.4" y="1696.5" text-anchor="middle" letter-spacing="-0.8">-3000</text>
<text x="650.4" y="1696.5" text-anchor="middle" letter-spacing="-0.8">-2500</text>
<text x="922.5" y="1696.5" text-anchor="middle" letter-spacing="-0.8">-2000</text>
<text x="1200.7" y="1696.5" text-anchor="middle" letter-spacing="-0.8">-1500</text>
<text x="1477.6" y="1696.5" text-anchor="middle" letter-spacing="-0.8">-1000</text>
<text x="1756" y="1696.5" text-anchor="middle" letter-spacing="-0.8">-500</text>
<text x="2028.3" y="1696.5" text-anchor="middle" letter-spacing="-0.8">0</text>
<text x="2303.9" y="1696.5" text-anchor="middle" letter-spacing="-0.8">500</text>
</g>
<text x="1174.5" y="1842" font-family="'Liberation Sans', sans-serif" font-weight="bold" font-size="75" fill="#000">Strain(με)</text>
<text transform="translate(95.6,973.5) rotate(-90)" font-family="'Liberation Sans', sans-serif" font-weight="bold" font-size="74" fill="#000">Load(kN)</text>
</svg>
</body></html>
